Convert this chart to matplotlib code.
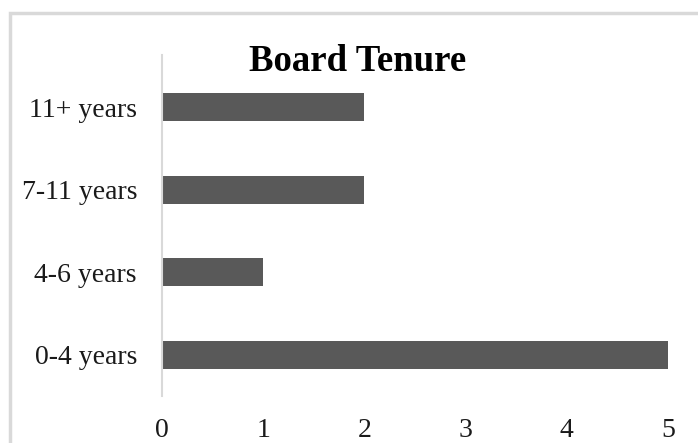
import matplotlib.pyplot as plt
from matplotlib.patches import Rectangle

categories = ['0-4 years', '4-6 years', '7-11 years', '11+ years']
counts = [5, 1, 2, 2]
xticks = [0, 1, 2, 3, 4, 5]

plt.rcParams['font.family'] = ['Liberation Serif', 'DejaVu Serif']

fig = plt.figure(figsize=(6.98, 4.43), dpi=100)

# light grey chart-area border (runs off right and bottom edges)
fig.patches.append(Rectangle((10 / 698, -0.1), 1.2, 1.1 - 13 / 443,
                             transform=fig.transFigure, fill=False,
                             edgecolor='#d9d9d9', linewidth=2.5))

ax = fig.add_axes([162 / 698, 1 - 396 / 443, 506 / 698, 341 / 443])
ax.barh(range(len(categories)), counts, height=0.34, color='#595959')

ax.set_xlim(0, 5)
ax.set_ylim(-0.5, 3.63)
ax.set_xticks(xticks)
ax.set_yticks(range(len(categories)))
ax.set_yticklabels(categories)

for s in ['top', 'right', 'bottom']:
    ax.spines[s].set_visible(False)
ax.spines['left'].set_color('#d9d9d9')
ax.spines['left'].set_linewidth(1.5)

ax.tick_params(axis='both', length=0, labelsize=20, colors='#1a1a1a')
ax.tick_params(axis='x', pad=15.5)
ax.tick_params(axis='y', pad=18)

fig.text(358 / 698, 1 - 71 / 443, 'Board Tenure', ha='center', va='baseline',
         fontsize=26.5, fontweight='bold', color='black')

fig.savefig('out.png', dpi=100)
